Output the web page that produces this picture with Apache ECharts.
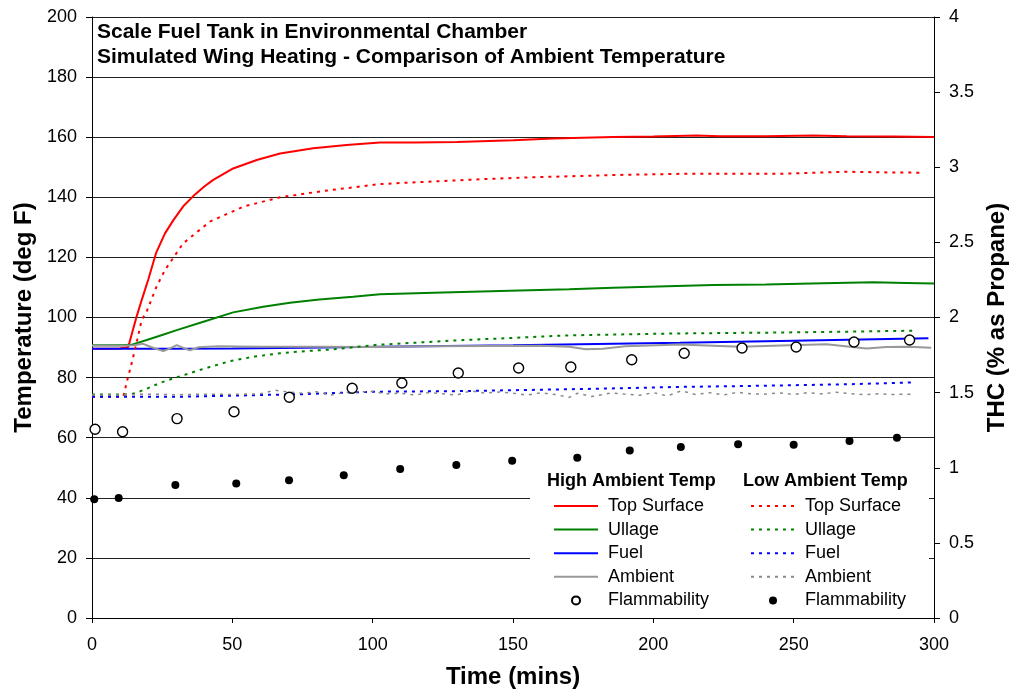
<!DOCTYPE html>
<html>
<head>
<meta charset="utf-8">
<title>Scale Fuel Tank in Environmental Chamber</title>
<script src="https://cdn.jsdelivr.net/npm/echarts@6/dist/echarts.min.js"></script>
<style>
  html, body { margin: 0; padding: 0; background: #fff; }
  #main { width: 1011px; height: 690px; }
</style>
</head>
<body>
<div id="main"></div>
<script>
// temperature data [time (mins), deg F]
var highTopSurface = [[0,89.6],[5,89.6],[10,89.7],[12.9,90.2],[15.7,99.7],[17.7,105.8],[20,112.5],[22.8,121.4],[26,128],[29,132.4],[32.5,137],[36.1,140.4],[40,143.6],[43.2,145.8],[50.3,149.6],[58.7,152.4],[67,154.6],[78.8,156.3],[90.7,157.4],[102.6,158.2],[115,158.2],[130,158.4],[150.1,159],[164.3,159.6],[185.7,160.1],[200,160.2],[215.4,160.6],[223.7,160.3],[240,160.3],[257,160.6],[268.9,160.3],[285.5,160.2],[300,160.1]];
var highUllage = [[0,90.8],[10,90.8],[14,90.9],[19.5,92.5],[25,94.2],[30.2,95.8],[39.7,98.6],[50.3,101.7],[61,103.6],[70.5,104.9],[81,106],[93,106.9],[102.6,107.7],[125,108.3],[148.9,108.9],[170,109.4],[185.7,109.9],[205,110.4],[221.3,110.8],[240,111],[260.5,111.4],[278.3,111.7],[290,111.5],[300,111.3]];
var highFuel = [[0,89.6],[25,89.6],[50,89.7],[75,89.9],[102.6,90.3],[150,90.8],[209.5,91.6],[250,92.3],[298,93.1]];
var highAmbient = [[0,90.7],[10,90.6],[15,90.8],[18,91.3],[21,90.2],[25.4,88.8],[28,89.8],[30.2,90.8],[33,89.7],[34.9,89.1],[38,90.1],[45,90.4],[60,90.3],[80,90.3],[100,90.2],[120,90.4],[140,90.5],[160,90.6],[170,90.3],[176,89.4],[182,89.6],[190,90.4],[209.5,91],[230.9,90.3],[248.7,90.8],[261.7,91.1],[270,90.3],[276,89.7],[283,90.2],[290.6,90.3],[299,89.9]];

var lowTopSurface = [[0,73.6],[5,73.6],[11.2,73.7],[12.4,78.6],[13.5,82.5],[15.3,89.2],[17.7,99.2],[19.5,102],[23,110.3],[26,115.8],[32.5,124.7],[42,131.9],[53.9,136.9],[67,140],[82.4,142.1],[102.6,144.4],[120,145.2],[138.2,146],[155,146.6],[173.9,147.1],[190,147.5],[209.5,147.8],[245,147.8],[268.9,148.5],[281.9,148.3],[295,148.2]];
var lowUllage = [[0,74.4],[10,74.4],[13.5,74.4],[16,75],[20,76.5],[25,78.5],[30.2,80.1],[40,83],[49.2,85.5],[58,87],[67,88.1],[76,88.8],[86,89.4],[101.4,90.9],[115,91.6],[132.3,92.5],[150,93.2],[167.9,94],[190,94.4],[209.5,94.7],[245,95],[270,95.3],[292.6,95.6]];
var lowFuel = [[0,73.6],[10,73.6],[30,73.6],[50,74],[75,74.5],[100,75.3],[130,75.5],[156,75.9],[180,76.3],[209.5,76.9],[240,77.3],[270,77.8],[292.6,78.4]];
var lowAmbient = [[0,74.2],[10,74.3],[20,74.5],[30,74.3],[40,74.5],[50,74.4],[60,74.6],[65,75.8],[70,75.2],[75,74.8],[80,75.3],[85,74.2],[90,75],[100,75.4],[105,74.6],[110,74.8],[115,74.2],[120,75],[125,74.6],[130,74.2],[135,75.6],[140,74.8],[145,75.2],[150,74.8],[155,74.2],[160,74.9],[165,74.4],[170,73.4],[173,74.8],[178,73.7],[185,74.9],[190,74.5],[195,74.1],[200,75],[205,73.9],[210,75.6],[215,74.4],[220,75],[225,74.2],[230,75.1],[235,74.6],[240,74.5],[245,74.9],[250,74.4],[255,75],[260,74.6],[265,75.1],[270,74.7],[275,74.3],[280,74.6],[285,74.4],[292,74.5]];

// flammability [time (mins), THC % as propane]
var highFlam = [[1.1,1.256],[10.9,1.24],[30.3,1.327],[50.6,1.373],[70.3,1.469],[92.7,1.529],[110.4,1.564],[130.5,1.631],[152,1.664],[170.6,1.671],[192.3,1.719],[211,1.762],[231.6,1.797],[250.9,1.804],[271.5,1.837],[291.3,1.85]];
var lowFlam = [[0.8,0.79],[9.5,0.799],[29.7,0.885],[51.4,0.896],[70.2,0.916],[89.7,0.95],[109.8,0.992],[129.8,1.018],[149.7,1.047],[172.9,1.067],[191.6,1.114],[209.8,1.138],[230.2,1.156],[250,1.153],[269.9,1.178],[286.8,1.2]];

var font = "'Liberation Sans', Arial, sans-serif";
var dots = [3, 5];

function line(name, data, color, dotted, width) {
  return {
    name: name,
    type: 'line',
    data: data,
    showSymbol: false,
    symbol: 'none',
    lineStyle: { color: color, width: width || 2, type: dotted ? dots : 'solid' },
    // transparent so the legend shows only the line
    itemStyle: { color: 'transparent', borderColor: 'transparent' },
    z: 2
  };
}

function legendCol(names, left, prefix) {
  return {
    data: names,
    orient: 'vertical',
    left: left, top: 497, padding: 0,
    itemWidth: 44, itemHeight: 8, itemGap: 5.6,
    selectedMode: false,
    formatter: function (n) { return n.replace(prefix, ''); },
    textStyle: { fontFamily: font, fontSize: 18, color: '#000', lineHeight: 18, padding: [0, 0, 0, 5] }
  };
}

var myChart = echarts.init(document.getElementById('main'));
var option = {
  backgroundColor: '#fff',
  animation: false,
  textStyle: { fontFamily: font },
  title: {
    text: 'Scale Fuel Tank in Environmental Chamber\nSimulated Wing Heating - Comparison of Ambient Temperature',
    left: 97,
    top: 20,
    padding: 0,
    textStyle: { fontFamily: font, fontSize: 21, fontWeight: 'bold', color: '#000', lineHeight: 25 }
  },
  grid: { left: 92, right: 77, top: 17, bottom: 72, outerBoundsMode: 'none' },
  legend: [
    legendCol(['High Top Surface', 'High Ullage', 'High Fuel', 'High Ambient', 'High Flammability'], 553, /^High /),
    legendCol(['Low Top Surface', 'Low Ullage', 'Low Fuel', 'Low Ambient', 'Low Flammability'], 750, /^Low /)
  ],
  graphic: [
    { type: 'rect', left: 530, top: 466, z: 1, shape: { width: 399, height: 151 }, style: { fill: '#fff' } },
    { type: 'text', left: 547, top: 472, z: 5, style: { text: 'High Ambient Temp', font: 'bold 18px ' + font, fill: '#000' } },
    { type: 'text', left: 743, top: 472, z: 5, style: { text: 'Low Ambient Temp', font: 'bold 18px ' + font, fill: '#000' } }
  ],
  xAxis: {
    type: 'value',
    min: 0, max: 300, interval: 50,
    name: 'Time (mins)',
    nameLocation: 'middle',
    nameGap: 47,
    nameTextStyle: { fontFamily: font, fontSize: 24, fontWeight: 'bold', color: '#000' },
    axisLine: { show: true, lineStyle: { color: '#000', width: 1 } },
    axisTick: { show: true, length: 5, lineStyle: { color: '#000' } },
    axisLabel: { fontSize: 18, color: '#000', margin: 18, fontFamily: font },
    splitLine: { show: false }
  },
  yAxis: [
    {
      type: 'value',
      min: 0, max: 200, interval: 20,
      name: 'Temperature (deg F)',
      nameLocation: 'middle',
      nameRotate: 90,
      nameGap: 56,
      nameTextStyle: { fontFamily: font, fontSize: 24, fontWeight: 'bold', color: '#000' },
      axisLine: { show: true, lineStyle: { color: '#000', width: 1 } },
      axisTick: { show: true, length: 6, lineStyle: { color: '#000' } },
      axisLabel: { fontSize: 18, color: '#000', margin: 15, fontFamily: font },
      splitLine: { show: true, lineStyle: { color: '#222', width: 1 } }
    },
    {
      type: 'value',
      position: 'right',
      min: 0, max: 4, interval: 0.5,
      name: 'THC (% as Propane)',
      nameLocation: 'middle',
      nameRotate: 90,
      nameGap: 51,
      nameTextStyle: { fontFamily: font, fontSize: 24, fontWeight: 'bold', color: '#000' },
      axisLine: { show: true, lineStyle: { color: '#000', width: 1 } },
      axisTick: { show: true, length: 6, lineStyle: { color: '#000' } },
      axisLabel: { fontSize: 18, color: '#000', margin: 15, fontFamily: font },
      splitLine: { show: false }
    }
  ],
  series: [
    line('High Top Surface', highTopSurface, '#ff0000', false),
    line('High Ullage', highUllage, '#008000', false),
    line('High Fuel', highFuel, '#0000ff', false),
    line('High Ambient', highAmbient, '#999999', false),
    line('Low Top Surface', lowTopSurface, '#ff0000', true),
    line('Low Ullage', lowUllage, '#008000', true),
    line('Low Fuel', lowFuel, '#0000ff', true),
    line('Low Ambient', lowAmbient, '#888888', true, 1.5),
    {
      name: 'High Flammability',
      type: 'scatter',
      yAxisIndex: 1,
      data: highFlam,
      symbol: 'circle',
      symbolSize: 10,
      itemStyle: { color: '#fff', borderColor: '#000', borderWidth: 1.4, opacity: 1 },
      z: 4
    },
    {
      name: 'Low Flammability',
      type: 'scatter',
      yAxisIndex: 1,
      data: lowFlam,
      symbol: 'circle',
      symbolSize: 8,
      itemStyle: { color: '#000', opacity: 1 },
      z: 4
    }
  ]
};
// draw the chart
myChart.setOption(option);
</script>
</body>
</html>
